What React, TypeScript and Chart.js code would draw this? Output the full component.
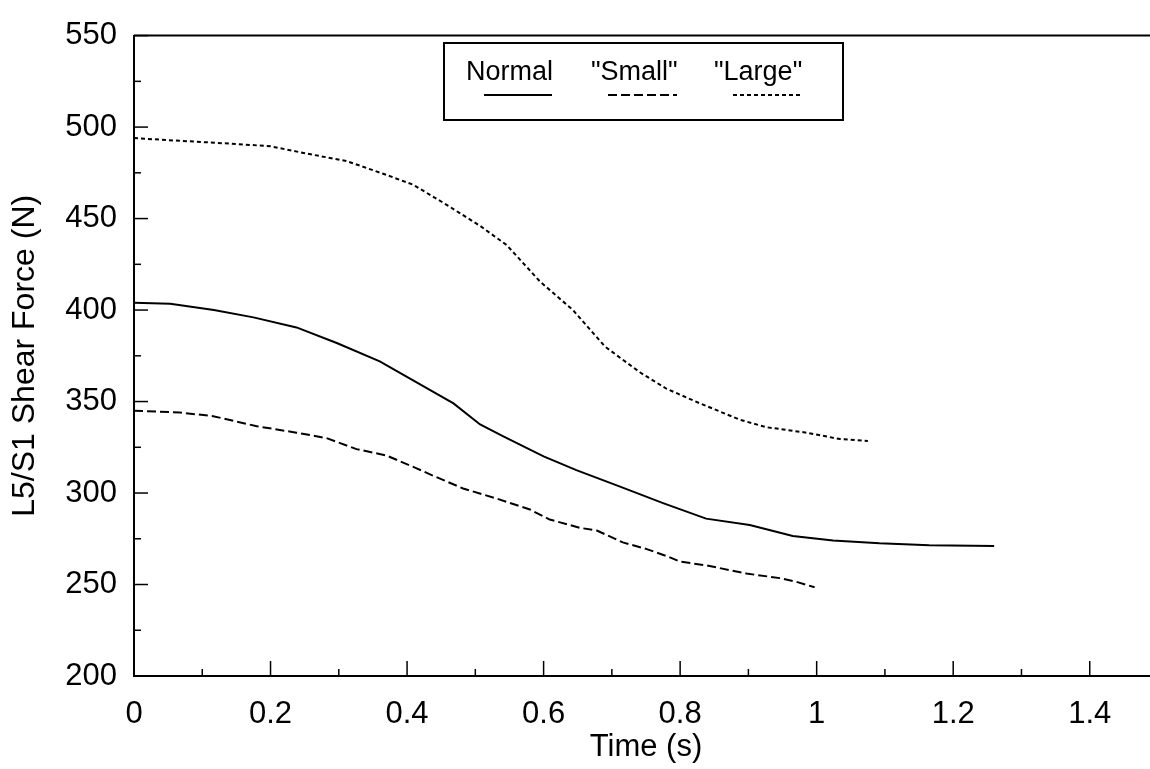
import React, { useEffect, useRef } from 'react';
import { Chart, registerables } from 'chart.js';

Chart.register(...registerables);

// ---- data ----
const seriesNames = ['Normal', '"Small"', '"Large"'];

const normalTime = [0, 0.053, 0.117, 0.175, 0.238, 0.297, 0.36, 0.414, 0.468, 0.507, 0.541, 0.6, 0.648, 0.712, 0.775, 0.838, 0.902, 0.965, 1.024, 1.092, 1.165, 1.26];
const normalForce = [404, 403.5, 400, 396, 390.5, 382, 372, 360.5, 349, 337.5, 331, 320, 312.5, 303.5, 294.5, 286, 282.5, 276.5, 274, 272.5, 271.5, 271];

const smallTime = [0, 0.067, 0.116, 0.18, 0.238, 0.282, 0.326, 0.37, 0.414, 0.438, 0.482, 0.531, 0.58, 0.609, 0.653, 0.678, 0.716, 0.75, 0.784, 0.8, 0.838, 0.897, 0.946, 0.97, 0.997];
const smallForce = [345, 344, 342, 336.5, 333, 330, 324, 320.5, 313.5, 309.5, 302.5, 297, 291, 285.5, 281, 279.5, 273, 269.5, 265, 262.5, 260.5, 256, 253.5, 251.5, 248.5];

const largeTime = [0, 0.067, 0.14, 0.2, 0.253, 0.311, 0.365, 0.409, 0.458, 0.507, 0.546, 0.595, 0.643, 0.69, 0.741, 0.78, 0.829, 0.888, 0.926, 0.985, 1.034, 1.075];
const largeForce = [494, 492.5, 491, 489.5, 485.5, 481.5, 474.5, 468.5, 457.5, 446, 435.5, 415.5, 400, 380, 366, 357, 349, 340, 336, 333, 329.5, 328.5];

const xTickValues = [0, 0.2, 0.4, 0.6, 0.8, 1, 1.2, 1.4];
const xTickLabels = ['0', '0.2', '0.4', '0.6', '0.8', '1', '1.2', '1.4'];
const xMinorTicks = [0.1, 0.3, 0.5, 0.7, 0.9, 1.1, 1.3];
const yTickValues = [200, 250, 300, 350, 400, 450, 500, 550];
const yMinorTicks = [225, 275, 325, 375, 425, 475, 525];

const xTitle = 'Time (s)';
const yTitle = 'L5/S1 Shear Force (N)';

const FONT = '"Liberation Sans", Arial, Helvetica, sans-serif';

const zip = (xs: number[], ys: number[]) => xs.map((x, i) => ({ x, y: ys[i] }));

const dashes: number[][] = [[], [9, 4], [4, 3]];

const decorPlugin = {
  id: 'decor',
  afterDraw(chart: any) {
    const ctx = chart.ctx as CanvasRenderingContext2D;
    const { left, right, top, bottom } = chart.chartArea;
    const xs = chart.scales.x;
    const ys = chart.scales.y;
    ctx.save();
    ctx.strokeStyle = '#000';
    ctx.lineWidth = 1.5;
    const seg = (x1: number, y1: number, x2: number, y2: number) => {
      ctx.beginPath();
      ctx.moveTo(x1, y1);
      ctx.lineTo(x2, y2);
      ctx.stroke();
    };
    xTickValues.forEach((v) => {
      const px = xs.getPixelForValue(v);
      seg(px, bottom, px, bottom - 15);
    });
    xMinorTicks.forEach((v) => {
      const px = xs.getPixelForValue(v);
      seg(px, bottom, px, bottom - 7);
    });
    yTickValues.forEach((v) => {
      const py = ys.getPixelForValue(v);
      seg(left, py, left + 14, py);
    });
    yMinorTicks.forEach((v) => {
      const py = ys.getPixelForValue(v);
      seg(left, py, left + 7, py);
    });
    // top frame line
    ctx.lineWidth = 2;
    seg(left, top, right + 10, top);

    // legend box
    ctx.lineWidth = 2;
    ctx.strokeRect(444, 43, 399, 77);
    ctx.fillStyle = '#000';
    ctx.font = `27px ${FONT}`;
    ctx.textBaseline = 'alphabetic';
    ctx.textAlign = 'left';
    const textX = [466, 591, 714];
    const lineX = [[484, 552], [608, 677], [733, 800]];
    chart.data.datasets.forEach((ds: any, i: number) => {
      ctx.fillText(ds.label, textX[i], 80);
      ctx.setLineDash(dashes[i]);
      ctx.lineWidth = 2;
      seg(lineX[i][0], 95, lineX[i][1], 95);
    });
    ctx.setLineDash([]);
    ctx.restore();
  },
};

export default function App() {
  const ref = useRef<HTMLCanvasElement | null>(null);

  useEffect(() => {
    if (!ref.current) return;
    Chart.defaults.font.family = FONT;
    Chart.defaults.color = '#000';
    const mk = (i: number, xs: number[], ys: number[]) => ({
      label: seriesNames[i],
      data: zip(xs, ys),
      borderColor: '#000',
      backgroundColor: '#000',
      borderWidth: 2,
      borderDash: dashes[i],
      pointRadius: 0,
      tension: 0,
      fill: false,
    });
    const chart = new Chart(ref.current, {
      type: 'line',
      data: {
        datasets: [
          mk(0, normalTime, normalForce),
          mk(1, smallTime, smallForce),
          mk(2, largeTime, largeForce),
        ],
      },
      options: {
        responsive: false,
        animation: false,
        layout: { padding: { top: 22, right: 2, left: 0, bottom: 0 } },
        plugins: {
          legend: { display: false },
          tooltip: { enabled: false },
        },
        scales: {
          x: {
            type: 'linear',
            min: 0,
            max: 1.5,
            grid: { display: false, drawTicks: false },
            border: { display: true, color: '#000', width: 2 },
            afterBuildTicks: (s: any) => {
              s.ticks = xTickValues.map((v) => ({ value: v }));
            },
            afterFit: (s: any) => {
              s.height = 93;
            },
            ticks: {
              font: { size: 31 },
              color: '#000',
              padding: 20,
              maxRotation: 0,
              autoSkip: false,
              callback: (v: any) => {
                const i = xTickValues.findIndex((t) => Math.abs(t - Number(v)) < 1e-9);
                return i >= 0 ? xTickLabels[i] : '';
              },
            },
            title: {
              display: true,
              text: xTitle,
              font: { size: 31, lineHeight: 1 },
              color: '#000',
              padding: { top: 0, bottom: 6 },
            },
          },
          y: {
            type: 'linear',
            min: 200,
            max: 550,
            grid: { display: false, drawTicks: false },
            border: { display: true, color: '#000', width: 2 },
            afterBuildTicks: (s: any) => {
              s.ticks = yTickValues.map((v) => ({ value: v }));
            },
            afterFit: (s: any) => {
              s.width = 134;
            },
            ticks: {
              font: { size: 31 },
              color: '#000',
              padding: 17,
              autoSkip: false,
            },
            title: {
              display: true,
              text: yTitle,
              font: { size: 32, lineHeight: 1 },
              color: '#000',
              padding: { top: 9, bottom: 0 },
            },
          },
        },
      },
      plugins: [decorPlugin],
    });
    return () => chart.destroy();
  }, []);

  return (
    <div
      style={{
        position: 'absolute',
        left: 0,
        top: 0,
        width: 1150,
        height: 769,
        overflow: 'hidden',
        background: '#fff',
      }}
    >
      <canvas ref={ref} width={1160} height={769} style={{ display: 'block' }} />
    </div>
  );
}
